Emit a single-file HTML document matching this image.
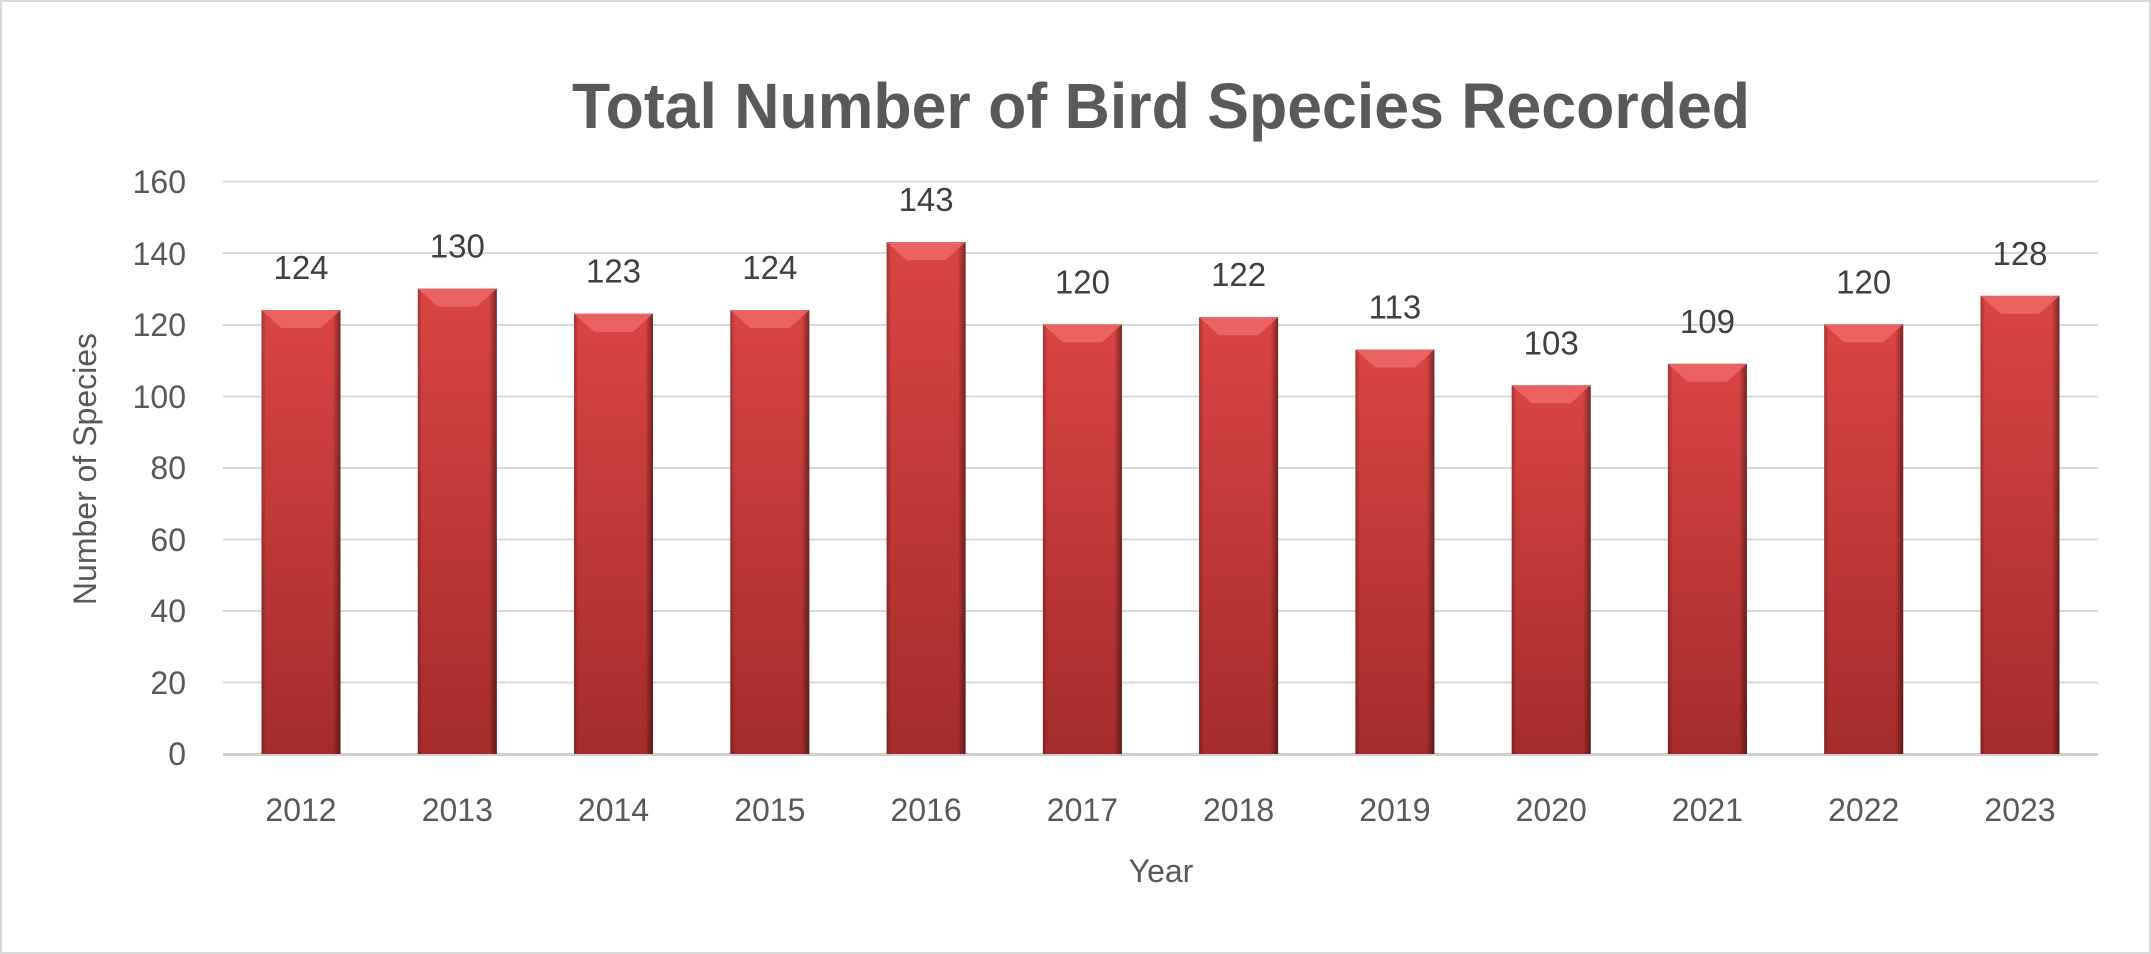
<!DOCTYPE html>
<html><head><style>
html,body{margin:0;padding:0;background:#fff}
svg{display:block}
text{font-family:"Liberation Sans",sans-serif;fill:#595959}
.v{fill:#404040;font-size:33px;text-anchor:middle}
.c{font-size:32px;text-anchor:middle}
</style></head><body>
<svg width="2151" height="954" viewBox="0 0 2151 954">
<defs>
<linearGradient id="v" x1="0" y1="0" x2="0" y2="1">
<stop offset="0" stop-color="#da4444"/><stop offset="1" stop-color="#a52c2c"/>
</linearGradient>
<linearGradient id="h" x1="0" y1="0" x2="1" y2="0">
<stop offset="0" stop-color="#000" stop-opacity="0.25"/>
<stop offset="0.06" stop-color="#000" stop-opacity="0"/>
<stop offset="0.9" stop-color="#000" stop-opacity="0"/>
<stop offset="1" stop-color="#000" stop-opacity="0.45"/>
</linearGradient>
</defs>
<rect x="1" y="1" width="2149" height="952" fill="#fff" stroke="#d9d9d9" stroke-width="2"/>
<text x="1161" y="128" font-size="64" font-weight="bold" text-anchor="middle" textLength="1178" lengthAdjust="spacingAndGlyphs">Total Number of Bird Species Recorded</text>
<g stroke="#d9d9d9" stroke-width="2">
<line x1="223" x2="2098" y1="181.5" y2="181.5"/>
<line x1="223" x2="2098" y1="253" y2="253"/>
<line x1="223" x2="2098" y1="325" y2="325"/>
<line x1="223" x2="2098" y1="396.5" y2="396.5"/>
<line x1="223" x2="2098" y1="468" y2="468"/>
<line x1="223" x2="2098" y1="539.5" y2="539.5"/>
<line x1="223" x2="2098" y1="611" y2="611"/>
<line x1="223" x2="2098" y1="682.5" y2="682.5"/>
</g>
<line x1="223" x2="2098" y1="754.5" y2="754.5" stroke="#d0d0d0" stroke-width="3"/>
<g font-size="32" text-anchor="end">
<text x="186" y="193">160</text><text x="186" y="265">140</text><text x="186" y="336">120</text><text x="186" y="408">100</text><text x="186" y="479">80</text><text x="186" y="551">60</text><text x="186" y="622">40</text><text x="186" y="694">20</text><text x="186" y="765">0</text>
</g>
<text transform="translate(96,469) rotate(-90)" font-size="32" text-anchor="middle">Number of Species</text>
<text x="1161" y="882" font-size="32" text-anchor="middle">Year</text>

<g transform="translate(261.5,310.1)"><rect width="79" height="443.9" fill="url(#v)"/><rect width="79" height="443.9" fill="url(#h)"/><polygon points="0,0 79,0 59,18 20,18" fill="#ef6a6a" opacity="0.8"/><text class="v" x="39.5" y="-31">124</text></g>
<g transform="translate(417.8,288.6)"><rect width="79" height="465.4" fill="url(#v)"/><rect width="79" height="465.4" fill="url(#h)"/><polygon points="0,0 79,0 59,18 20,18" fill="#ef6a6a" opacity="0.8"/><text class="v" x="39.5" y="-31">130</text></g>
<g transform="translate(574,313.7)"><rect width="79" height="440.3" fill="url(#v)"/><rect width="79" height="440.3" fill="url(#h)"/><polygon points="0,0 79,0 59,18 20,18" fill="#ef6a6a" opacity="0.8"/><text class="v" x="39.5" y="-31">123</text></g>
<g transform="translate(730.3,310.1)"><rect width="79" height="443.9" fill="url(#v)"/><rect width="79" height="443.9" fill="url(#h)"/><polygon points="0,0 79,0 59,18 20,18" fill="#ef6a6a" opacity="0.8"/><text class="v" x="39.5" y="-31">124</text></g>
<g transform="translate(886.6,242.1)"><rect width="79" height="511.9" fill="url(#v)"/><rect width="79" height="511.9" fill="url(#h)"/><polygon points="0,0 79,0 59,18 20,18" fill="#ef6a6a" opacity="0.8"/><text class="v" x="39.5" y="-31">143</text></g>
<g transform="translate(1042.9,324.4)"><rect width="79" height="429.6" fill="url(#v)"/><rect width="79" height="429.6" fill="url(#h)"/><polygon points="0,0 79,0 59,18 20,18" fill="#ef6a6a" opacity="0.8"/><text class="v" x="39.5" y="-31">120</text></g>
<g transform="translate(1199.1,317.2)"><rect width="79" height="436.8" fill="url(#v)"/><rect width="79" height="436.8" fill="url(#h)"/><polygon points="0,0 79,0 59,18 20,18" fill="#ef6a6a" opacity="0.8"/><text class="v" x="39.5" y="-31">122</text></g>
<g transform="translate(1355.4,349.5)"><rect width="79" height="404.5" fill="url(#v)"/><rect width="79" height="404.5" fill="url(#h)"/><polygon points="0,0 79,0 59,18 20,18" fill="#ef6a6a" opacity="0.8"/><text class="v" x="39.5" y="-31">113</text></g>
<g transform="translate(1511.7,385.3)"><rect width="79" height="368.7" fill="url(#v)"/><rect width="79" height="368.7" fill="url(#h)"/><polygon points="0,0 79,0 59,18 20,18" fill="#ef6a6a" opacity="0.8"/><text class="v" x="39.5" y="-31">103</text></g>
<g transform="translate(1667.9,363.8)"><rect width="79" height="390.2" fill="url(#v)"/><rect width="79" height="390.2" fill="url(#h)"/><polygon points="0,0 79,0 59,18 20,18" fill="#ef6a6a" opacity="0.8"/><text class="v" x="39.5" y="-31">109</text></g>
<g transform="translate(1824.2,324.4)"><rect width="79" height="429.6" fill="url(#v)"/><rect width="79" height="429.6" fill="url(#h)"/><polygon points="0,0 79,0 59,18 20,18" fill="#ef6a6a" opacity="0.8"/><text class="v" x="39.5" y="-31">120</text></g>
<g transform="translate(1980.5,295.8)"><rect width="79" height="458.2" fill="url(#v)"/><rect width="79" height="458.2" fill="url(#h)"/><polygon points="0,0 79,0 59,18 20,18" fill="#ef6a6a" opacity="0.8"/><text class="v" x="39.5" y="-31">128</text></g>

<g>
<text class="c" x="301" y="821">2012</text>
<text class="c" x="457.3" y="821">2013</text>
<text class="c" x="613.5" y="821">2014</text>
<text class="c" x="769.8" y="821">2015</text>
<text class="c" x="926.1" y="821">2016</text>
<text class="c" x="1082.4" y="821">2017</text>
<text class="c" x="1238.6" y="821">2018</text>
<text class="c" x="1394.9" y="821">2019</text>
<text class="c" x="1551.2" y="821">2020</text>
<text class="c" x="1707.4" y="821">2021</text>
<text class="c" x="1863.7" y="821">2022</text>
<text class="c" x="2020" y="821">2023</text>
</g>
</svg>
</body></html>
